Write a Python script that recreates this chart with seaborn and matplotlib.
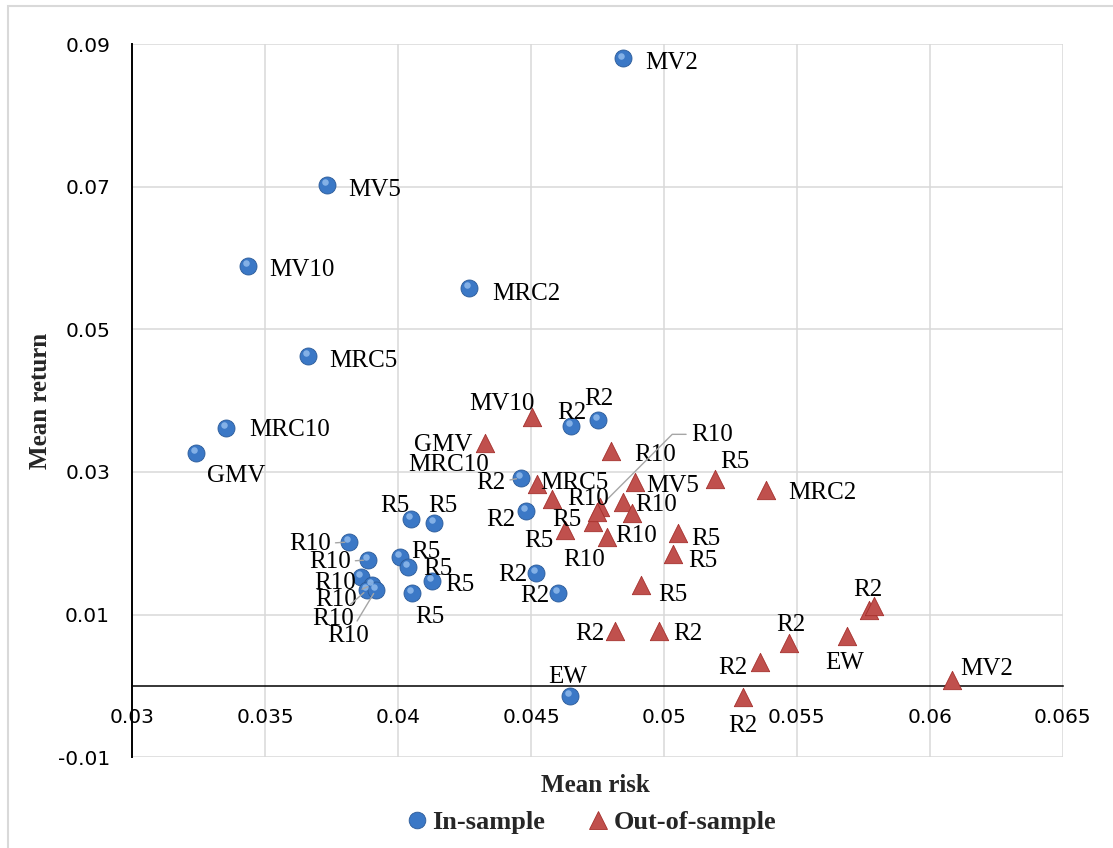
import numpy as np
import pandas as pd
import matplotlib
matplotlib.use("Agg")
import matplotlib.pyplot as plt
import matplotlib.transforms as mtransforms
from matplotlib.lines import Line2D
from matplotlib.patches import Rectangle
import seaborn as sns

# ---------------- data ----------------
in_labels = ["MV2", "MV5", "MV10", "MRC2", "MRC5", "MRC10", "GMV", "EW",
             "R2", "R2", "R2", "R2", "R2", "R2",
             "R5", "R5", "R5", "R5", "R5", "R5",
             "R10", "R10", "R10", "R10", "R10", "R10"]
in_risk = [0.04846, 0.03732, 0.03435, 0.04266, 0.03661, 0.03352, 0.03239, 0.04646,
           0.04650, 0.04751, 0.04461, 0.04480, 0.04518, 0.04601,
           0.04048, 0.04134, 0.04006, 0.04037, 0.04127, 0.04052,
           0.03815, 0.03886, 0.03860, 0.03900, 0.03883, 0.03916]
in_return = [0.0880, 0.07024, 0.05888, 0.0558, 0.04626, 0.03617, 0.03267, -0.0014,
             0.03645, 0.03729, 0.02916, 0.02453, 0.01584, 0.01304,
             0.02341, 0.02285, 0.01809, 0.01668, 0.01472, 0.01304,
             0.02019, 0.01767, 0.01528, 0.01416, 0.01346, 0.01346]

out_labels = ["GMV", "MV2", "MV5", "MV10", "MRC2", "MRC5", "MRC10", "EW",
              "R2", "R2", "R2", "R2", "R2", "R2", "R2",
              "R5", "R5", "R5", "R5", "R5", "R5",
              "R10", "R10", "R10", "R10", "R10", "R10"]
out_risk = [0.04326, 0.06082, 0.04890, 0.04503, 0.05382, 0.04521, 0.04578, 0.05687,
            0.04815, 0.04980, 0.05360, 0.05469, 0.05296, 0.05773, 0.05789,
            0.05191, 0.04732, 0.04627, 0.05052, 0.05035, 0.04912,
            0.04800, 0.04758, 0.04845, 0.04785, 0.04879, 0.04747]
out_return = [0.03407, 0.00084, 0.0286, 0.03771, 0.02748, 0.02832, 0.02622, 0.00701,
              0.00771, 0.00771, 0.00336, 0.00603, -0.00154, 0.01065, 0.01122,
              0.02902, 0.02299, 0.02187, 0.02145, 0.01851, 0.01416,
              0.03295, 0.0251, 0.0258, 0.02089, 0.02425, 0.02439]

series_names = ["In-sample", "Out-of-sample"]
x_ticks = [0.03, 0.035, 0.04, 0.045, 0.05, 0.055, 0.06, 0.065]
x_tick_labels = ["0.03", "0.035", "0.04", "0.045", "0.05", "0.055", "0.06", "0.065"]
y_ticks = [-0.01, 0.01, 0.03, 0.05, 0.07, 0.09]
y_tick_labels = ["-0.01", "0.01", "0.03", "0.05", "0.07", "0.09"]

# ---------------- label placement (pixel offsets) ----------------
in_dx = [49, 48, 54, 58, 55, 64, 40, -2, 1, 1, -30, -25, -23, -23,
         -16, 9, 26, 30, 28, 18, -39, -38, -26, -35, -34, -28]
in_dy = [-2, -3, -2, -4, -3, 0, -21, 21, 15, 23, -3, -7, 0, -1,
         15, 19, 7, 0, -2, -22, 0, 0, -4, -13, -27, -44]
in_leader = [False] * 26
for i in (10, 20, 21, 23, 24, 25):
    in_leader[i] = True

out_dx = [-42, 35, 38, -30, 57, 38, -103, -2,
          -25, 29, -27, 2, 0, -2, -6,
          20, -26, -26, 28, 30, 32,
          44, 112, 33, -23, 4, -9]
out_dy = [0, 13, -2, 15, -1, 3, 36, -25,
          -1, -1, -3, 20, -27, 23, 19,
          19, 4, -9, -4, -5, -8,
          -2, 74, -1, -21, -21, 15]
out_leader = [False] * 27
out_leader[22] = True

# ---------------- figure ----------------
sns.set_style("white")
plt.rcParams["font.family"] = ["DejaVu Sans"]

fig = plt.figure(figsize=(11.13, 8.48), dpi=100)
ax = fig.add_axes([132.3 / 1113, (848 - 757.3) / 848,
                   (1062.7 - 132.3) / 1113, (757.3 - 44) / 848])

# outer chart border
fig.patches.append(Rectangle((8 / 1113, -0.2), 1.2, 0.2 + (848 - 6) / 848,
                             transform=fig.transFigure, fill=False,
                             edgecolor="#D9D9D9", lw=1.5, clip_on=False))

df_in = pd.DataFrame({"risk": in_risk, "ret": in_return, "label": in_labels})
df_out = pd.DataFrame({"risk": out_risk, "ret": out_return, "label": out_labels})

blue = "#3B78C6"
red = "#C0504D"

sns.scatterplot(data=df_in, x="risk", y="ret", marker="o", s=150, color=blue,
                edgecolor="#2B5A98", linewidth=0.6, ax=ax, zorder=3, legend=False)
# sphere highlight
hl = mtransforms.offset_copy(ax.transData, fig=fig, x=-2, y=2.5, units="dots")
ax.scatter(in_risk, in_return, s=22, color="#9CC4F2", alpha=0.75, linewidths=0,
           transform=hl, zorder=3.1)

sns.scatterplot(data=df_out, x="risk", y="ret", marker="^", s=175, color=red,
                edgecolor="#A5302C", linewidth=0.6, ax=ax, zorder=4, legend=False)

ax.set_xlim(0.03, 0.065)
ax.set_ylim(-0.01, 0.09)

label_font = dict(family=["Liberation Serif", "DejaVu Serif"], size=18, color="black")
drawn = set()


def add_labels(df, dxs, dys, leaders):
    for (x, y, lab), dx, dy, ld in zip(df[["risk", "ret", "label"]].itertuples(index=False),
                                        dxs, dys, leaders):
        px, py = ax.transData.transform((x, y))
        key = (lab, round((px + dx) / 4), round((py + dy) / 4))
        if key in drawn:
            continue  # coinciding label of overlapping points
        drawn.add(key)
        kw = {}
        if ld:
            if abs(dx) > 80:
                kw["arrowprops"] = dict(arrowstyle="-", color="#A6A6A6", lw=1.0,
                                        shrinkA=1, shrinkB=6, relpos=(0, 0.55),
                                        connectionstyle="angle,angleA=0,angleB=45,rad=0")
            else:
                kw["arrowprops"] = dict(arrowstyle="-", color="#A6A6A6", lw=1.0,
                                        shrinkA=1, shrinkB=3)
        ax.annotate(lab, (x, y), xytext=(dx, dy), textcoords="offset pixels",
                    ha="center", va="center_baseline", zorder=6, **label_font, **kw)


add_labels(df_in, in_dx, in_dy, in_leader)
add_labels(df_out, out_dx, out_dy, out_leader)

# axes styling
ax.set_xticks(x_ticks)
ax.set_xticklabels(x_tick_labels)
ax.set_yticks(y_ticks)
ax.set_yticklabels(y_tick_labels)
ax.grid(True, color="#D9D9D9", lw=1.1, zorder=0)
ax.set_axisbelow(True)
for side in ("top", "right"):
    ax.spines[side].set_visible(False)
ax.spines["bottom"].set_position(("data", 0))
ax.spines["bottom"].set_color("black")
ax.spines["bottom"].set_linewidth(1.1)
ax.spines["bottom"].set_zorder(2)
ax.spines["left"].set_color("black")
ax.spines["left"].set_linewidth(1.4)
ax.tick_params(axis="x", length=0, pad=16, labelsize=14.5, labelcolor="black")
ax.tick_params(axis="y", length=0, pad=16, labelsize=14.5, labelcolor="black")
ax.set_xlabel("")
ax.set_ylabel("")

title_font = dict(family=["Liberation Serif", "DejaVu Serif"], size=18, weight="bold")
fig.text(595 / 1113, 1 - 785 / 848, "Mean risk", ha="center", va="center", **title_font)
fig.text(41 / 1113, 1 - 401 / 848, "Mean return", ha="center", va="center",
         rotation=90, **title_font)

handles = [
    Line2D([], [], marker="o", linestyle="none", markersize=12, markerfacecolor=blue,
           markeredgecolor="#2B5A98", markeredgewidth=0.6),
    Line2D([], [], marker="^", linestyle="none", markersize=13, markerfacecolor=red,
           markeredgecolor="#A5302C", markeredgewidth=0.6),
]
fig.legend(handles, series_names, loc="center", bbox_to_anchor=(590 / 1113, 1 - 822 / 848),
           ncol=2, frameon=False, handletextpad=0.1, columnspacing=1.5,
           handlelength=1.0, prop=dict(family=["Liberation Serif", "DejaVu Serif"],
                                        size=19, weight="bold"))

fig.savefig("out.png", dpi=100)
